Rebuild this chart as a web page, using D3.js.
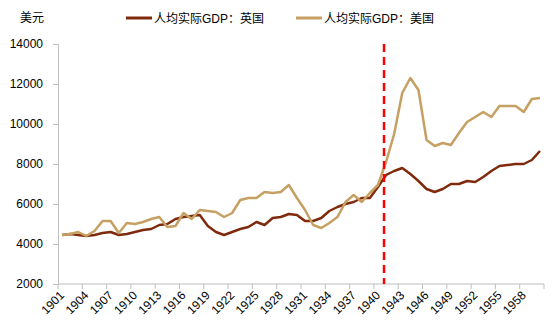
<!DOCTYPE html>
<html><head><meta charset="utf-8">
<script src="https://cdn.jsdelivr.net/npm/d3@7/dist/d3.min.js"></script>
<style>
html,body{margin:0;padding:0;background:#fff;}
text{font-family:"Liberation Sans",Arial,"Noto Sans CJK SC",sans-serif;fill:#000;}
</style></head>
<body><svg id="c" width="559" height="327"></svg>
<script>
const years = d3.range(1901, 1961);
const ukGdp = [4450,4500,4450,4400,4450,4550,4600,4450,4500,4600,
  4700,4750,4950,5000,5250,5350,5400,5450,4900,4600,
  4450,4600,4750,4850,5100,4950,5300,5350,5500,5450,
  5150,5150,5300,5650,5850,6000,6100,6300,6300,6850,
  7450,7650,7800,7500,7150,6750,6600,6750,7000,7000,
  7150,7100,7350,7650,7900,7950,8000,8000,8200,8650];
const usGdp = [4450,4500,4600,4400,4650,5150,5150,4550,5050,5000,
  5100,5250,5350,4850,4900,5550,5250,5700,5650,5600,
  5350,5550,6200,6300,6300,6600,6550,6600,6950,6300,
  5700,4950,4800,5050,5350,6100,6450,6100,6550,6950,
  8100,9500,11550,12300,11700,9200,8900,9050,8950,9550,
  10100,10350,10600,10350,10900,10900,10900,10600,11250,11300];
const yTicks = [2000,4000,6000,8000,10000,12000,14000];
const xLabelYears = d3.range(1901, 1961, 3);
const seriesNames = ["人均实际GDP：英国","人均实际GDP：美国"];
const seriesColors = ["#7f2a0c","#c6a062"];
const markerYear = 1941;
const unitLabel = "美元";

const svg = d3.select("#c");
const x = d3.scaleBand().domain(years).range([58,544]).padding(0);
const y = d3.scaleLinear().domain([2000,14000]).range([284,44]);
const bw = x.bandwidth();
const cx = d => x(d) + bw/2;
const axisColor = "#bfbfbf";

// y axis
const yAxis = svg.append("g").attr("transform","translate(58,0)")
  .call(d3.axisLeft(y).tickValues(yTicks).tickSize(5).tickPadding(10).tickFormat(d3.format("d")));
yAxis.select(".domain").attr("stroke",axisColor);
yAxis.selectAll(".tick line").attr("stroke",axisColor);
yAxis.selectAll("text").attr("font-size",12).attr("fill","#000").attr("font-family","Liberation Sans, Arial, sans-serif");

// x axis
const xg = svg.append("g");
xg.append("line").attr("x1",58).attr("x2",544).attr("y1",284).attr("y2",284).attr("stroke",axisColor);
const tickPos = xLabelYears.map(d=>x(d)).concat([x.range()[1]]);
xg.selectAll("line.t").data(tickPos).enter().append("line").attr("class","t")
  .attr("x1",d=>d).attr("x2",d=>d).attr("y1",284).attr("y2",289).attr("stroke",axisColor);
xg.selectAll("text.lab").data(xLabelYears).enter().append("text").attr("class","lab")
  .attr("x",d=>cx(d)+3).attr("y",296)
  .attr("transform",d=>"rotate(-45 " + (cx(d)+3) + " 296)")
  .style("transform-box","view-box")
  .attr("text-anchor","end").attr("font-size",12).text(d=>d);

// unit label
svg.append("text").attr("x",20).attr("y",22).attr("font-size",12).text(unitLabel);

// lines
const line = d3.line().x((d,i)=>cx(years[i])).y(d=>y(d));
[ukGdp, usGdp].forEach((s,k)=>{
  svg.append("path").datum(s).attr("d",line).attr("fill","none")
    .attr("stroke",seriesColors[k]).attr("stroke-width",2.5).attr("stroke-linejoin","round");
});

// marker line
const mx = x(markerYear) + bw*0.25;
svg.append("line").attr("x1",mx).attr("x2",mx).attr("y1",y(14000)).attr("y2",y(2000))
  .attr("stroke","#ff0000").attr("stroke-width",2.5).attr("stroke-dasharray","8,5");

// legend
const legX = [126, 296];
seriesNames.forEach((n,k)=>{
  svg.append("line").attr("x1",legX[k]).attr("x2",legX[k]+26).attr("y1",18).attr("y2",18)
    .attr("stroke",seriesColors[k]).attr("stroke-width",3);
  svg.append("text").attr("x",legX[k]+28).attr("y",22.5).attr("font-size",12).text(n);
});
</script></body></html>
